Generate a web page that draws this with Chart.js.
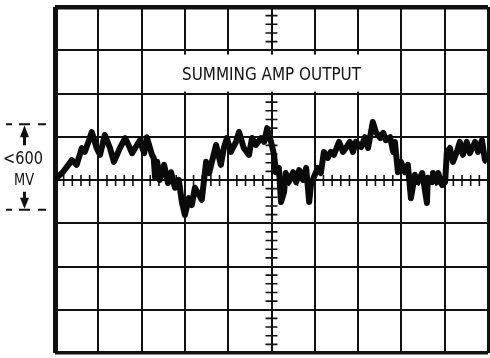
<!DOCTYPE html>
<html>
<head>
<meta charset="utf-8">
<script src="https://cdn.jsdelivr.net/npm/chart.js@4.4.0/dist/chart.umd.min.js"></script>
<style>
  html, body { margin: 0; padding: 0; background: #fff; }
  #wrap { width: 490px; height: 358px; position: relative; }
</style>
</head>
<body>
<div id="wrap"><canvas id="myChart" width="490" height="358"></canvas></div>
<script>
// trace, in divisions (x: 0..10, y: -4..4, 0 = centre)
var traceX = [0, 0.04, 0.18, 0.39, 0.50, 0.62, 0.69, 0.85, 0.96, 1.04, 1.15, 1.27, 1.36, 1.50, 1.62, 1.73, 1.78, 1.96, 2.06, 2.12,
    2.24, 2.28, 2.31, 2.36, 2.42, 2.52, 2.61, 2.68, 2.77, 2.86, 2.93, 3.00, 3.09, 3.16, 3.23, 3.33, 3.39, 3.49, 3.56, 3.72,
    3.83, 3.90, 3.97, 4.06, 4.18, 4.25, 4.36, 4.48, 4.55, 4.64, 4.76, 4.83, 4.90, 4.94, 4.99, 5.06, 5.10, 5.17, 5.22, 5.29,
    5.33, 5.40, 5.50, 5.57, 5.64, 5.73, 5.80, 5.87, 5.91, 5.98, 6.07, 6.14, 6.21, 6.30, 6.37, 6.44, 6.56, 6.65, 6.72, 6.81,
    6.88, 6.95, 7.07, 7.16, 7.23, 7.34, 7.41, 7.51, 7.58, 7.64, 7.74, 7.81, 7.85, 7.92, 7.99, 8.08, 8.15, 8.22, 8.31, 8.38,
    8.48, 8.59, 8.61, 8.71, 8.73, 8.82, 8.85, 8.94, 9.01, 9.05, 9.12, 9.19, 9.28, 9.35, 9.42, 9.51, 9.58, 9.70, 9.77, 9.86,
    9.93, 9.98];
var traceY = [0, 0.05, 0.18, 0.46, 0.35, 0.74, 0.65, 1.11, 0.74, 0.58, 1.04, 0.74, 0.42, 0.74, 0.97, 0.74, 0.62, 0.92, 0.62, 0.99,
    0.58, 0.51, 0.07, 0.42, 0, 0.35, -0.07, 0.18, -0.18, 0, -0.51, -0.81, -0.42, -0.58, -0.18, -0.35, -0.46, 0.42, 0.16, 0.81,
    0.35, 0.74, 0.97, 0.65, 0.88, 1.11, 0.74, 0.58, 0.97, 0.81, 0.97, 0.88, 1.20, 1.04, 0.88, 0.58, 0.18, 0.28, -0.51, -0.28,
    0.16, -0.05, 0.18, -0.05, 0.23, 0, 0.28, -0.51, -0.12, 0.07, 0.28, 0.16, 0.65, 0.51, 0.65, 0.58, 0.88, 0.65, 0.74, 0.88,
    0.65, 0.88, 0.76, 0.99, 0.74, 1.34, 1.11, 0.97, 1.09, 0.92, 0.99, 0.65, 0.88, 0.18, 0.42, 0.18, 0.35, -0.42, 0.12, -0.05,
    0.16, -0.53, 0.05, -0.05, 0.16, -0.05, 0.16, -0.12, -0.05, 0.65, 0.74, 0.42, 0.65, 0.88, 0.58, 0.88, 0.62, 0.88, 0.65, 0.92,
    0.46, 0.42];

var xDivs = 10;
var yDivs = 4;
var minorStep = 0.2;
var titleText = 'SUMMING AMP OUTPUT';
var levelText = ['<600', 'MV'];
var levelSpan = [1.29, -0.69]; // dashed marks, in divisions

var points = [];
for (var i = 0; i < traceX.length; i++) {
    points.push({ x: traceX[i], y: traceY[i] });
}

var FONT = '"Liberation Sans Narrow", "DejaVu Sans Condensed", "Liberation Sans", sans-serif';

function fitText(ctx, text, cx, cy, width, size) {
    ctx.save();
    ctx.font = size + 'px ' + FONT;
    var w = ctx.measureText(text).width;
    ctx.translate(cx, cy);
    ctx.scale(width / w, 1);
    ctx.textAlign = 'center';
    ctx.textBaseline = 'middle';
    ctx.fillText(text, 0, 0);
    ctx.restore();
}

var scopePlugin = {
    id: 'scope',
    beforeDatasetsDraw: function(chart) {
        var ctx = chart.ctx;
        var xs = chart.scales.x, ys = chart.scales.y;
        var cx = xs.getPixelForValue(xDivs / 2), cy = ys.getPixelForValue(0);
        ctx.save();
        ctx.strokeStyle = '#111';
        ctx.lineWidth = 1.6;
        ctx.beginPath();
        for (var v = 0; v <= xDivs + 0.001; v += minorStep) {
            if (Math.abs(v - Math.round(v)) < 0.01) continue;
            var px = xs.getPixelForValue(v);
            ctx.moveTo(px, cy - 5);
            ctx.lineTo(px, cy + 6);
        }
        for (var w = -yDivs; w <= yDivs + 0.001; w += minorStep) {
            if (Math.abs(w - Math.round(w)) < 0.01) continue;
            var py = ys.getPixelForValue(w);
            ctx.moveTo(cx - 6, py);
            ctx.lineTo(cx + 6, py);
        }
        ctx.stroke();
        // blank the grid behind the title
        ctx.fillStyle = '#fff';
        ctx.fillRect(xs.getPixelForValue(2.6), ys.getPixelForValue(2.9), 208, 37);
        ctx.fillStyle = '#111';
        fitText(ctx, titleText, xs.getPixelForValue(5), ys.getPixelForValue(2.42), 179, 17);
        ctx.restore();
    },
    afterDraw: function(chart) {
        var ctx = chart.ctx;
        var ys = chart.scales.y;
        ctx.save();
        ctx.fillStyle = '#111';
        fitText(ctx, levelText[0], 23, ys.getPixelForValue(0.47), 40, 17);
        fitText(ctx, levelText[1], 24, ys.getPixelForValue(-0.01), 20, 16);

        var top = ys.getPixelForValue(levelSpan[0]);
        var bot = ys.getPixelForValue(levelSpan[1]);
        ctx.strokeStyle = '#111';
        ctx.lineWidth = 2;
        ctx.beginPath();
        ctx.moveTo(6, top); ctx.lineTo(12, top);
        ctx.moveTo(19, top); ctx.lineTo(30, top);
        ctx.moveTo(38, top); ctx.lineTo(46, top);
        ctx.moveTo(6, bot); ctx.lineTo(12, bot);
        ctx.moveTo(19, bot); ctx.lineTo(30, bot);
        ctx.moveTo(38, bot); ctx.lineTo(46, bot);
        ctx.stroke();
        // arrows
        ctx.lineWidth = 3;
        ctx.beginPath();
        ctx.moveTo(24.5, top + 8); ctx.lineTo(24.5, top + 21);
        ctx.moveTo(24.5, bot - 8); ctx.lineTo(24.5, bot - 18);
        ctx.stroke();
        ctx.beginPath();
        ctx.moveTo(24.5, top + 1); ctx.lineTo(29, top + 13); ctx.lineTo(20, top + 13); ctx.closePath();
        ctx.moveTo(24.5, bot - 1); ctx.lineTo(29, bot - 12); ctx.lineTo(20, bot - 12); ctx.closePath();
        ctx.fill();
        ctx.restore();
    }
};

function gridWidth(edgeMin, edgeMax, wMin, wMax) {
    return function(c) {
        var v = c.tick ? c.tick.value : 0;
        if (v === edgeMin) return wMin;
        if (v === edgeMax) return wMax;
        return 2;
    };
}

var ctx = document.getElementById('myChart').getContext('2d');
var myChart = new Chart(ctx, {
    type: 'scatter',
    data: {
        datasets: [{
            data: points,
            showLine: true,
            borderColor: '#0a0a0a',
            borderWidth: 6,
            borderJoinStyle: 'round',
            pointRadius: 0,
            tension: 0
        }]
    },
    options: {
        responsive: false,
        animation: false,
        layout: { padding: { left: 55, right: 2, top: 7, bottom: 5 } },
        plugins: { legend: { display: false }, tooltip: { enabled: false }, title: { display: false } },
        scales: {
            x: {
                type: 'linear', min: 0, max: xDivs,
                ticks: { display: false, stepSize: 1 },
                grid: { color: '#111', lineWidth: gridWidth(0, xDivs, 5, 3), drawTicks: false },
                border: { display: false }
            },
            y: {
                type: 'linear', min: -yDivs, max: yDivs,
                ticks: { display: false, stepSize: 1 },
                grid: { color: '#111', lineWidth: gridWidth(-yDivs, yDivs, 3.5, 4.5), drawTicks: false },
                border: { display: false }
            }
        }
    },
    plugins: [scopePlugin]
});
</script>
</body>
</html>
